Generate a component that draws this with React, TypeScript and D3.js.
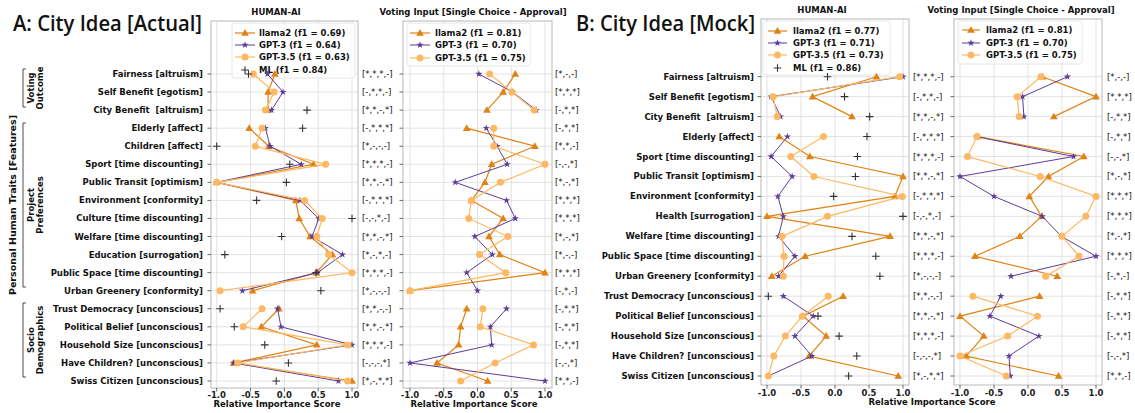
import React from 'react';
import * as d3 from 'd3';

const rowsA = ["Fairness [altruism]", "Self Benefit [egotism]", "City Benefit  [altruism]", "Elderly [affect]", "Children [affect]", "Sport [time discounting]", "Public Transit [optimism]", "Environment [conformity]", "Culture [time discounting]", "Welfare [time discounting]", "Education [surrogation]", "Public Space [time discounting]", "Urban Greenery [conformity]", "Trust Democracy [unconscious]", "Political Belief [unconscious]", "Household Size [unconscious]", "Have Children? [unconscious]", "Swiss Citizen [unconscious]"];
const groupsA: [number, number][] = [[0, 2], [3, 12], [13, 17]];

const rowsB = ["Fairness [altruism]", "Self Benefit [egotism]", "City Benefit  [altruism]", "Elderly [affect]", "Sport [time discounting]", "Public Transit [optimism]", "Environment [conformity]", "Health [surrogation]", "Welfare [time discounting]", "Public Space [time discounting]", "Urban Greenery [conformity]", "Trust Democracy [unconscious]", "Political Belief [unconscious]", "Household Size [unconscious]", "Have Children? [unconscious]", "Swiss Citizen [unconscious]"];
const groupsB: [number, number][] = [[0, 2], [3, 10], [11, 15]];

// Panel A, HUMAN-AI
const llama2AH = [-0.14, -0.24, -0.24, -0.52, -0.23, 0.43, -1.0, 0.17, 0.22, 0.38, 0.71, 0.47, -0.47, -0.08, -0.34, 0.48, -0.75, 1.0];
const gpt3AH = [-0.25, -0.02, -0.19, -0.28, -0.21, 0.25, -1.0, 0.23, 0.51, 0.41, 0.86, 0.49, -0.62, -0.10, -0.05, 1.0, -0.75, 0.80];
const gpt35AH = [-0.46, -0.15, -0.28, -0.33, -0.43, 0.61, -1.0, 0.30, 0.56, 0.48, 0.655, 1.0, -0.95, -0.33, -0.61, 0.94, -0.69, 0.935];
const mlA: (number | null)[] = [-0.53, null, 0.335, 0.27, -1.0, 0.08, 0.03, -0.41, 1.0, -0.04, -0.88, 0.47, 0.54, -0.95, -0.74, -0.29, 0.06, -0.12];
// Panel A, Voting Input
const llama2AV = [0.56, 0.38, 0.14, -0.16, 0.85, 0.21, 0.11, -0.09, 0.38, 0.17, 0.33, 1.0, -1.0, -0.16, -0.25, -0.28, -0.60, 0.15];
const gpt3AV = [0.02, 0.52, 0.87, 0.13, 0.29, 0.44, -0.33, 0.43, 0.56, -0.04, 0.22, -0.16, 0.0, 0.43, 0.19, 0.21, -1.0, 1.0];
const gpt35AV = [0.18, 0.51, 0.84, 0.24, 0.24, 1.0, 0.34, -0.09, -0.13, 0.45, 0.03, 0.42, -1.0, 0.08, 0.04, 0.83, 0.26, -0.25];
// Panel B, HUMAN-AI
const llama2BH = [0.61, -0.33, 0.25, -0.82, -0.37, 1.0, 0.88, -1.0, 0.81, -0.44, -0.93, 0.12, -0.47, -0.13, -0.38, 0.93];
const gpt3BH = [1.0, -0.94, -0.80, -0.70, -0.94, -0.63, -0.84, -0.76, -0.83, -0.59, -0.83, -0.76, -0.32, -0.59, -0.34, -0.98];
const gpt35BH = [0.95, -0.91, -0.85, -0.17, -0.65, -0.31, 0.99, -0.11, -0.78, -0.75, -0.76, -0.10, -0.48, -0.73, -0.90, -0.98];
const mlB: (number | null)[] = [-0.11, 0.14, 0.51, 0.47, 0.33, 0.30, -0.02, 1.0, 0.25, 0.60, 0.66, -0.98, -0.25, 0.06, 0.32, 0.20];
// Panel B, Voting Input
const llama2BV = [0.21, 1.0, 0.38, -0.74, 0.82, 0.30, 0.02, 0.20, -0.12, -0.78, 0.43, 0.17, -1.0, -0.65, -0.91, 0.45];
const gpt3BV = [0.58, -0.08, -0.06, -0.76, 0.67, -1.0, -0.50, 0.21, 0.49, 1.0, -0.25, -0.40, -0.56, 0.16, -0.28, -0.26];
const gpt35BV = [0.19, -0.16, -0.13, -0.75, -0.89, 0.18, 1.0, 0.85, 0.50, 0.75, 0.26, -0.81, 0.14, -0.30, -1.0, -0.32];

const annoAH = ["[*,*,*,-]", "[-,*,*,-]", "[*,*,-,*]", "[-,*,*,*]", "[*,-,-,-]", "[*,*,*,-]", "[*,*,-,*]", "[-,*,*,*]", "[-,-,*,-]", "[*,*,-,*]", "[*,-,*,-]", "[*,*,*,-]", "[*,-,-,-]", "[*,*,-,-]", "[*,*,-,*]", "[*,*,*,-]", "[-,-,-,*]", "[*,-,*,*]"];
const annoAV = ["[*,-,-]", "[*,*,*]", "[-,*,*]", "[-,*,*]", "[*,*,-]", "[-,-,*]", "[*,-,*]", "[*,*,*]", "[*,*,*]", "[*,-,*]", "[*,-,-]", "[*,*,*]", "[-,*,-]", "[-,*,*]", "[-,*,*]", "[-,*,*]", "[-,-,*]", "[*,*,-]"];
const annoBH = ["[*,*,*,-]", "[-,*,*,-]", "[*,*,-,*]", "[-,*,*,*]", "[*,*,*,-]", "[*,*,-,*]", "[-,*,*,*]", "[-,-,*,-]", "[*,*,-,*]", "[*,*,*,-]", "[*,-,-,-]", "[*,*,-,-]", "[*,*,-,*]", "[*,*,*,-]", "[-,-,-,*]", "[*,-,*,*]"];
const annoBV = ["[*,-,-]", "[*,*,*]", "[-,*,*]", "[-,*,*]", "[-,-,*]", "[*,-,*]", "[*,*,*]", "[*,*,*]", "[*,-,*]", "[*,*,*]", "[-,*,-]", "[-,*,*]", "[-,*,*]", "[-,*,*]", "[-,-,*]", "[*,*,-]"];

const xTicks = [-1.0, -0.5, 0.0, 0.5, 1.0];
const legendAH = ["llama2 (f1 = 0.69)", "GPT-3 (f1 = 0.64)", "GPT-3.5 (f1 = 0.63)", "ML (f1 = 0.84)"];
const legendAV = ["llama2 (f1 = 0.81)", "GPT-3 (f1 = 0.70)", "GPT-3.5 (f1 = 0.75)"];
const legendBH = ["llama2 (f1 = 0.77)", "GPT-3 (f1 = 0.71)", "GPT-3.5 (f1 = 0.73)", "ML (f1 = 0.86)"];
const legendBV = ["llama2 (f1 = 0.81)", "GPT-3 (f1 = 0.70)", "GPT-3.5 (f1 = 0.75)"];

const C_LLAMA = '#e08214';
const C_GPT3 = '#5e3c99';
const C_GPT35 = '#fdb863';
const C_ML = '#333333';
const FONT = '"DejaVu Sans", sans-serif';

type MarkerType = 'triangle' | 'star' | 'circle' | 'plus';

function Marker({ type, x, y, color }: { type: MarkerType; x: number; y: number; color: string }) {
  if (type === 'circle') return <circle cx={x} cy={y} r={3.5} fill={color} />;
  if (type === 'plus') return <path d={`M${x - 3.8},${y}H${x + 3.8}M${x},${y - 3.8}V${y + 3.8}`} stroke={color} strokeWidth={1.1} fill="none" />;
  const sym = type === 'triangle' ? d3.symbol(d3.symbolTriangle, 26) : d3.symbol(d3.symbolStar, 16);
  return <path d={sym() as string} transform={`translate(${x},${y + (type === 'triangle' ? 0.5 : 0)})`} fill={color} />;
}

interface Series { color: string; marker: MarkerType; values: (number | null)[]; line: boolean; width: number; }

interface SubplotProps {
  frame: [number, number, number, number];
  xr: [number, number];
  ry: [number, number];
  rows: string[];
  groups: [number, number][];
  series: Series[];
  anno: string[];
  annoX: number;
  showLabels: boolean;
  labelX: number;
  title: string;
  titleX: number;
  titleY: number;
  tickY: number;
  legend: string[];
  legendBox: [number, number, number, number];
  legendY: number[];
  handle: [number, number];
  legendTextX: number;
}

function Subplot(p: SubplotProps) {
  const [fx0, fx1, fy0, fy1] = p.frame;
  const x = d3.scaleLinear().domain([-1, 1]).range(p.xr);
  const y = d3.scalePoint<number>().domain(p.rows.map((_, i) => i)).range(p.ry);
  const line = d3.line<[number, number]>().x(d => x(d[0])).y(d => y(d[1]) as number);
  return (
    <g>
      {/* grid */}
      {xTicks.map(t => <line key={'gx' + t} x1={x(t)} x2={x(t)} y1={fy0} y2={fy1} stroke="#dcdcdc" strokeWidth={0.8} />)}
      {p.rows.map((_, i) => <line key={'gy' + i} x1={fx0} x2={fx1} y1={y(i)} y2={y(i)} stroke="#dcdcdc" strokeWidth={0.8} />)}
      <rect x={fx0} y={fy0} width={fx1 - fx0} height={fy1 - fy0} fill="none" stroke="#b8b8b8" strokeWidth={1} />
      {/* ticks */}
      {xTicks.map(t => <line key={'tx' + t} x1={x(t)} x2={x(t)} y1={fy1} y2={fy1 + 3.5} stroke="#444" strokeWidth={0.8} />)}
      {xTicks.map(t => (
        <text key={'tl' + t} x={x(t)} y={p.tickY} textAnchor="middle" fontFamily={FONT} fontWeight="bold" fontSize={8.5} fill="#222">{t.toFixed(1)}</text>
      ))}
      {p.rows.map((_, i) => <line key={'ty' + i} x1={fx0 - 3.5} x2={fx0} y1={y(i)} y2={y(i)} stroke="#444" strokeWidth={0.8} />)}
      {p.showLabels && p.rows.map((r, i) => (
        <text key={'rl' + i} x={p.labelX} y={(y(i) as number) + 3} textAnchor="end" fontFamily={FONT} fontWeight="bold" fontSize={8.5} fill="#111" style={{ whiteSpace: 'pre' }}>{r}</text>
      ))}
      {p.anno.map((a, i) => (
        <text key={'an' + i} x={p.annoX} y={(y(i) as number) + 3} fontFamily={FONT} fontSize={8.5} fill="#111">{a}</text>
      ))}
      <text x={p.titleX} y={p.titleY} textAnchor="middle" fontFamily={FONT} fontWeight="bold" fontSize={8.5} fill="#111">{p.title}</text>
      {/* legend */}
      <rect x={p.legendBox[0]} y={p.legendBox[2]} width={p.legendBox[1] - p.legendBox[0]} height={p.legendBox[3] - p.legendBox[2]} rx={2.5} fill="white" fillOpacity={0.8} stroke="#e0e0e0" strokeWidth={0.8} />
      {p.legend.map((lab, i) => {
        const s = p.series[i];
        const ly = p.legendY[i];
        const cx = (p.handle[0] + p.handle[1]) / 2;
        return (
          <g key={'lg' + i}>
            {s.line && <line x1={p.handle[0]} x2={p.handle[1]} y1={ly} y2={ly} stroke={s.color} strokeWidth={s.width} />}
            <Marker type={s.marker} x={cx} y={ly} color={s.color} />
            <text x={p.legendTextX} y={ly + 3} fontFamily={FONT} fontWeight="bold" fontSize={8.5} fill="#111">{lab}</text>
          </g>
        );
      })}
      {/* data */}
      {p.series.map((s, si) => (
        <g key={'s' + si}>
          {s.line && p.groups.map(([a, b], gi) => {
            const pts: [number, number][] = [];
            for (let i = a; i <= b; i++) if (s.values[i] !== null) pts.push([s.values[i] as number, i]);
            return <path key={gi} d={line(pts) as string} fill="none" stroke={s.color} strokeWidth={s.width} />;
          })}
          {s.values.map((v, i) => v === null ? null : <Marker key={i} type={s.marker} x={x(v)} y={y(i) as number} color={s.color} />)}
        </g>
      ))}
    </g>
  );
}

function Bracket({ y0, y1, lines, cy }: { y0: number; y1: number; lines: string[]; cy: number }) {
  return (
    <g>
      <path d={`M26,${y0}H23V${y1}H26`} fill="none" stroke="#222" strokeWidth={0.8} />
      {lines.map((l, i) => (
        <text key={i} transform={`translate(${34 + i * 9},${cy}) rotate(-90)`} textAnchor="middle" fontFamily={FONT} fontWeight="bold" fontSize={8.5} fill="#111">{l}</text>
      ))}
    </g>
  );
}

export default function App() {
  const mk = (l: number[], g3: number[], g35: number[], ml?: (number | null)[]): Series[] => {
    const s: Series[] = [
      { color: C_LLAMA, marker: 'triangle', values: l, line: true, width: 1.2 },
      { color: C_GPT3, marker: 'star', values: g3, line: true, width: 1.0 },
      { color: C_GPT35, marker: 'circle', values: g35, line: true, width: 1.2 },
    ];
    if (ml) s.push({ color: C_ML, marker: 'plus', values: ml, line: false, width: 1 });
    return s;
  };
  return (
    <div style={{ position: 'absolute', left: 0, top: 0 }}>
      <svg width={1135} height={413} viewBox="0 0 1135 413" style={{ display: 'block', background: 'white' }}>
        <text x={13} y={31} fontFamily='"Open Sans", sans-serif' fontWeight={600} fontSize={22} textLength={189} lengthAdjust="spacingAndGlyphs" fill="#111">A: City Idea [Actual]</text>
        <text x={576} y={31} fontFamily='"Open Sans", sans-serif' fontWeight={600} fontSize={22} textLength={179} lengthAdjust="spacingAndGlyphs" fill="#111">B: City Idea [Mock]</text>

        <text transform="translate(16,205) rotate(-90)" textAnchor="middle" fontFamily={FONT} fontWeight="bold" fontSize={9.5} fill="#111">Personal Human Traits [Features]</text>
        <Bracket y0={69} y1={107} lines={["Voting", "Outcome"]} cy={88} />
        <Bracket y0={123} y1={287} lines={["Project", "Preferences"]} cy={205} />
        <Bracket y0={303} y1={377} lines={["Socio", "Demographics"]} cy={340} />

        <Subplot frame={[211, 358, 21, 388]} xr={[216.7, 352]} ry={[74, 381]} rows={rowsA} groups={groupsA}
          series={mk(llama2AH, gpt3AH, gpt35AH, mlA)} anno={annoAH} annoX={362} showLabels labelX={203}
          title="HUMAN-AI" titleX={276} titleY={15} tickY={398} legend={legendAH} legendBox={[232, 355, 23, 78]}
          legendY={[33, 45, 57, 70]} handle={[235, 255]} legendTextX={259} />
        <Subplot frame={[403, 552, 21, 388]} xr={[410, 545]} ry={[74, 381]} rows={rowsA} groups={groupsA}
          series={mk(llama2AV, gpt3AV, gpt35AV)} anno={annoAV} annoX={555} showLabels={false} labelX={0}
          title="Voting Input [Single Choice - Approval]" titleX={473} titleY={15} tickY={398} legend={legendAV} legendBox={[407, 530, 23, 66]}
          legendY={[33, 45, 58]} handle={[410, 430]} legendTextX={435} />
        <text x={277} y={406.5} textAnchor="middle" fontFamily={FONT} fontWeight="bold" fontSize={8.5} fill="#111">Relative Importance Score</text>
        <text x={474} y={406.5} textAnchor="middle" fontFamily={FONT} fontWeight="bold" fontSize={8.5} fill="#111">Relative Importance Score</text>

        <Subplot frame={[761, 909, 19, 385]} xr={[767, 903]} ry={[76.7, 376]} rows={rowsB} groups={groupsB}
          series={mk(llama2BH, gpt3BH, gpt35BH, mlB)} anno={annoBH} annoX={913} showLabels labelX={754}
          title="HUMAN-AI" titleX={822} titleY={13} tickY={396} legend={legendBH} legendBox={[763, 890, 21, 75]}
          legendY={[31, 43, 55, 68]} handle={[768, 787]} legendTextX={793} />
        <Subplot frame={[954, 1102, 19, 385]} xr={[960, 1096]} ry={[76.7, 376]} rows={rowsB} groups={groupsB}
          series={mk(llama2BV, gpt3BV, gpt35BV)} anno={annoBV} annoX={1107} showLabels={false} labelX={0}
          title="Voting Input [Single Choice - Approval]" titleX={1021} titleY={13} tickY={396} legend={legendBV} legendBox={[958, 1082, 21, 64]}
          legendY={[30, 43, 55]} handle={[962, 980]} legendTextX={986} />
        <text x={932} y={405} textAnchor="middle" fontFamily={FONT} fontWeight="bold" fontSize={8.5} fill="#111">Relative Importance Score</text>
      </svg>
    </div>
  );
}
